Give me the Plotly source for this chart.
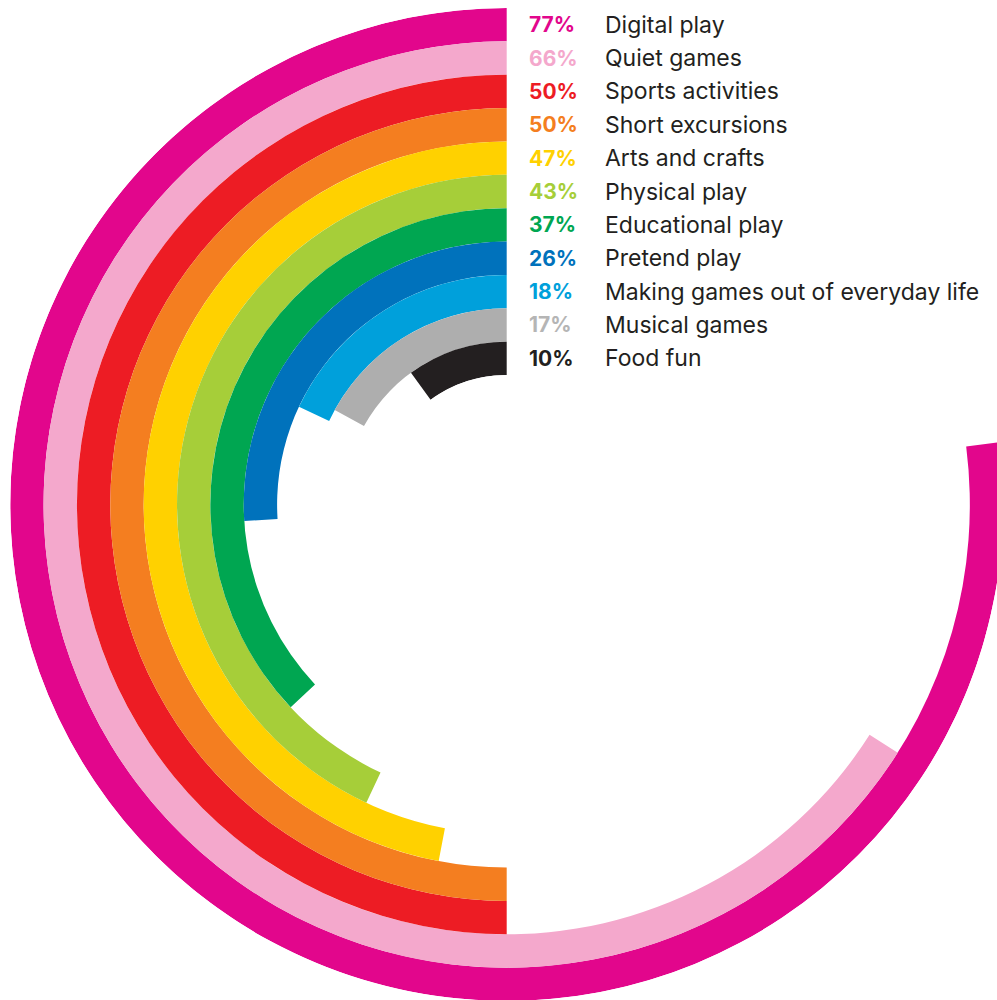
import plotly.graph_objects as go

# Share of respondents per type of play (outermost ring first)
categories = [
    "Digital play", "Quiet games", "Sports activities", "Short excursions",
    "Arts and crafts", "Physical play", "Educational play", "Pretend play",
    "Making games out of everyday life", "Musical games", "Food fun",
]
percentages = [77, 66, 50, 50, 47, 43, 37, 26, 18, 17, 10]
colors = [
    "#E2068C", "#F4A8CC", "#ED1C24", "#F47E20", "#FFD100", "#A6CE39",
    "#00A651", "#0072BC", "#00A0DB", "#AEAEAE", "#231F20",
]
label_colors = [
    "#E2068C", "#F4A8CC", "#ED1C24", "#F47E20", "#FFD100", "#A6CE39",
    "#00A651", "#0072BC", "#00A0DB", "#B5B5B5", "#231F20",
]

n = len(categories)
ring_index = [n - 1 - i for i in range(n)]  # outermost ring has the highest index

# Page / polar geometry (pixels)
W, H = 1004, 1002
cx, cy_top = 506.7, 504.5
R_out, R_in = 496.5, 129.5
hole = R_in / R_out
ring_px = (R_out - R_in) / n
cy_bottom = H - cy_top

fig = go.Figure()
fig.add_trace(go.Barpolar(
    r=[1] * n,
    base=ring_index,
    theta=[p * 3.6 / 2 for p in percentages],
    width=[p * 3.6 for p in percentages],
    marker=dict(color=colors, line=dict(width=0)),
    hoverinfo="skip",
    showlegend=False,
))

annotations = []
for i, (cat, pct) in enumerate(zip(categories, percentages)):
    r_mid = R_in + (ring_index[i] + 0.5) * ring_px
    y = (cy_bottom + r_mid) / H
    annotations.append(dict(
        x=527 / W, y=y, xref="paper", yref="paper", xanchor="left", yanchor="middle",
        text=f"<b>{pct}%</b>", showarrow=False,
        font=dict(family="Inter, Roboto, sans-serif", size=21, color=label_colors[i]),
    ))
    annotations.append(dict(
        x=603 / W, y=y, xref="paper", yref="paper", xanchor="left", yanchor="middle",
        text=cat, showarrow=False,
        font=dict(family="Inter, Roboto, sans-serif", size=23, color="#231F20"),
    ))

fig.update_layout(
    width=W, height=H,
    margin=dict(l=0, r=0, t=0, b=0),
    paper_bgcolor="white",
    plot_bgcolor="white",
    polar=dict(
        domain=dict(x=[(cx - R_out) / W, (cx + R_out) / W],
                    y=[(cy_bottom - R_out) / H, (cy_bottom + R_out) / H]),
        hole=hole,
        bgcolor="white",
        barmode="overlay",
        radialaxis=dict(range=[0, n], visible=False, showgrid=False),
        angularaxis=dict(direction="counterclockwise", rotation=90, visible=False,
                         showgrid=False, showline=False, ticks=""),
    ),
    annotations=annotations,
)

fig.write_html(
    "out.html",
    post_script="document.body.style.margin='0';document.body.style.overflow='hidden';"
                "document.documentElement.style.overflow='hidden';",
)
